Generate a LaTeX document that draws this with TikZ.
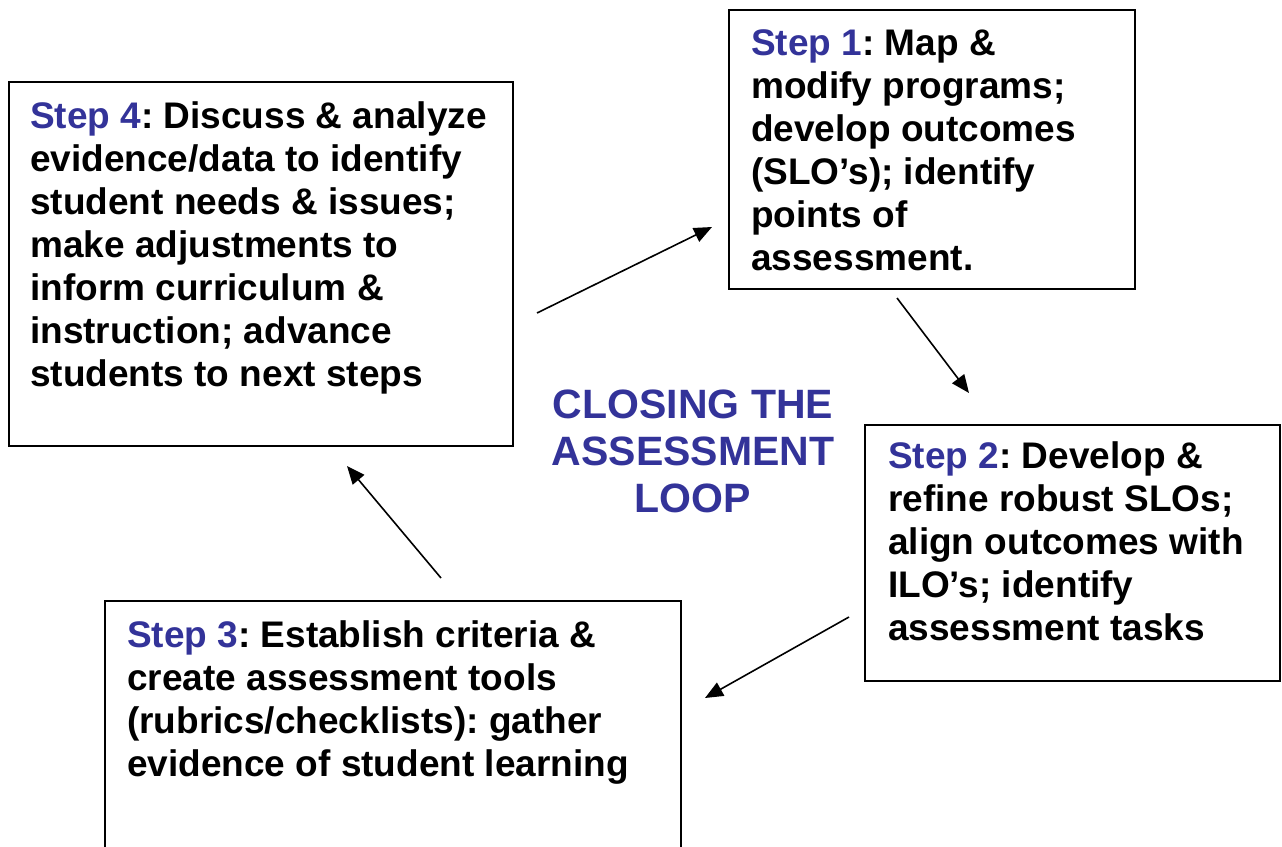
\documentclass[tikz,border=0pt]{standalone}
\usepackage{fontspec}
\setmainfont{Liberation Sans}
\usetikzlibrary{arrows.meta}
\definecolor{stepblue}{HTML}{333399}
\frenchspacing
\tikzset{
  box/.style={draw=black, line width=1.6pt, fill=none},
  steptext/.style={anchor=north west, inner sep=0pt, align=left, font=\fontsize{37}{43}\selectfont\bfseries},
  titletext/.style={anchor=north, inner sep=0pt, align=center, text=stepblue, font=\fontsize{41}{47}\selectfont\bfseries},
  flow/.style={line width=1.6pt, -{Triangle[length=18pt,width=15pt]}}
}
\newcommand{\stp}[1]{\rule{0pt}{28pt}\textcolor{stepblue}{Step #1}}
\begin{document}
\frenchspacing
\begin{tikzpicture}[x=1pt,y=-1pt]
\useasboundingbox (0,0) rectangle (1282,846);
% boxes
\draw[box] (9,82) rectangle (513,446);
\draw[box] (729,10) rectangle (1135,289);
\draw[box] (865,425) rectangle (1280,681);
\draw[box] (105,601) rectangle (681,870);
% texts
\node[steptext] (s4) at (30,100) {\stp{4}: Discuss \& analyze\\evidence/data to identify\\student needs \& issues;\\make adjustments to\\inform curriculum \&\\instruction; advance\\students to next steps};
\node[steptext] (s1) at (751,27) {\stp{1}: Map \&\\modify programs;\\develop outcomes\\(SLO’s); identify\\points of\\assessment.};
\node[steptext] (s2) at (888,440) {\stp{2}: Develop \&\\refine robust SLOs;\\align outcomes with\\ILO’s; identify\\assessment tasks};
\node[steptext] (s3) at (127,619) {\stp{3}: Establish criteria \&\\create assessment tools\\(rubrics/checklists): gather\\evidence of student learning};
\node[titletext] (title) at (693,388) {\rule{0pt}{30pt}CLOSING THE\\ASSESSMENT\\LOOP};
% arrow endpoints
\coordinate (a41) at (537,313);
\coordinate (a41e) at (712,227);
\coordinate (a12) at (897,298);
\coordinate (a12e) at (969,393);
\coordinate (a23) at (849,617);
\coordinate (a23e) at (705,698);
\coordinate (a34) at (441,578);
\coordinate (a34e) at (347,466);
\draw[flow] (a41) -- (a41e);
\draw[flow] (a12) -- (a12e);
\draw[flow] (a23) -- (a23e);
\draw[flow] (a34) -- (a34e);
\end{tikzpicture}
\end{document}
